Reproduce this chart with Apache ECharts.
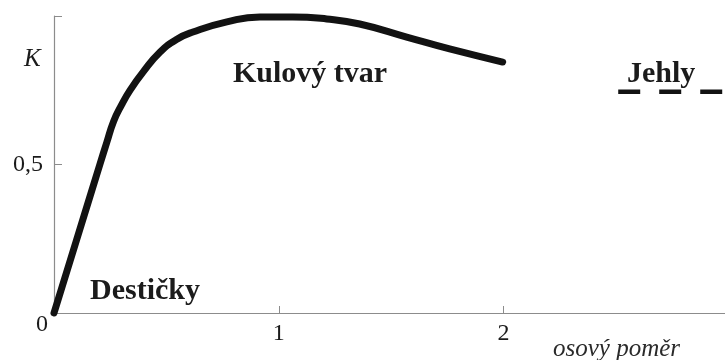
<!DOCTYPE html>
<html>
<head>
<meta charset="utf-8">
<script src="https://cdn.jsdelivr.net/npm/echarts@6/dist/echarts.min.js"></script>
<style>
  html, body { margin: 0; padding: 0; background: #fff; overflow: hidden; }
  #chart { width: 725px; height: 360px; }
</style>
</head>
<body>
<div id="chart"></div>
<script>
// Shape factor K as a function of the axial ratio
const axisRatio = [0, 0.1, 0.204, 0.235, 0.265, 0.3, 0.34, 0.396, 0.471, 0.547, 0.618, 0.769, 0.916, 1.062, 1.213, 1.36, 1.569, 1.76, 1.996];
const kValues   = [0, 0.245, 0.5, 0.575, 0.645, 0.70, 0.752, 0.811, 0.878, 0.922, 0.946, 0.98, 0.997, 0.997, 0.99, 0.973, 0.929, 0.889, 0.845];

// Needle-shaped particles: constant level, continuing past the right edge
const needleRatio = [2.51, 3.2];
const needleK     = [0.745, 0.745];

// Axis ticks
const xTicks = [0, 1, 2];
const yTicks = [0, 0.5, 1];
const xTickLabels = ['', '1', '2'];
const yTickLabels = ['0', '0,5', ''];
const xMax = 2.985;

const FONT = '"Liberation Serif", "DejaVu Serif", serif';
const INK = '#1b1b1b';
const AXIS = '#8c8c8c';

const chart = echarts.init(document.getElementById('chart'), null, { renderer: 'canvas' });

chart.setOption({
  animation: false,
  backgroundColor: '#ffffff',
  grid: { left: 54, right: 0, top: 16, bottom: 47, containLabel: false, show: false },
  xAxis: {
    type: 'value',
    position: 'bottom',
    min: xTicks[0],
    max: xMax,
    interval: 1,
    axisLine: { show: true, onZero: false, lineStyle: { color: AXIS, width: 1.2 } },
    axisTick: { show: true, inside: true, length: 7, lineStyle: { color: AXIS, width: 1 } },
    splitLine: { show: false },
    splitArea: { show: false },
    axisLabel: {
      margin: 9,
      color: INK,
      fontFamily: FONT,
      fontSize: 24,
      showMaxLabel: false,
      formatter: v => xTickLabels[xTicks.indexOf(v)] ?? ''
    }
  },
  yAxis: {
    type: 'value',
    position: 'left',
    min: yTicks[0],
    max: yTicks[yTicks.length - 1],
    interval: 0.5,
    axisLine: { show: true, onZero: false, lineStyle: { color: AXIS, width: 1.2 } },
    axisTick: { show: true, inside: true, length: 8, lineStyle: { color: AXIS, width: 1 } },
    splitLine: { show: false },
    splitArea: { show: false },
    axisLabel: {
      margin: 6,
      color: INK,
      fontFamily: FONT,
      fontSize: 24,
      formatter: v => {
        const t = yTickLabels[yTicks.indexOf(v)] ?? '';
        if (v === 0) return '{z|' + t + '}';
        if (t) return '{h|' + t + '}';
        return '';
      },
      rich: {
        z: { fontFamily: FONT, fontSize: 24, color: INK, padding: [24, 0, 0, 0] },
        h: { fontFamily: FONT, fontSize: 24, color: INK, padding: [0, 5, 0, 0] }
      }
    }
  },
  series: [
    {
      name: 'K',
      type: 'line',
      data: axisRatio.map((x, i) => [x, kValues[i]]),
      smooth: 0.5,
      symbol: 'none',
      clip: false,
      lineStyle: { color: '#121212', width: 7, cap: 'round', join: 'round' }
    },
    {
      name: 'Jehly',
      type: 'line',
      data: needleRatio.map((x, i) => [x, needleK[i]]),
      symbol: 'none',
      clip: true,
      lineStyle: { color: '#121212', width: 4.5, type: [22, 19], cap: 'butt' }
    }
  ],
  graphic: [
    { type: 'text', left: 24, top: 47, style: { text: 'K', fontStyle: 'italic', fontSize: 25, fontFamily: FONT, fill: INK } },
    { type: 'text', left: 233, top: 59, style: { text: 'Kulový tvar', fontWeight: 'bold', fontSize: 30, fontFamily: FONT, fill: INK } },
    { type: 'text', left: 90, top: 276, style: { text: 'Destičky', fontWeight: 'bold', fontSize: 30, fontFamily: FONT, fill: INK } },
    { type: 'text', left: 627, top: 59, style: { text: 'Jehly', fontWeight: 'bold', fontSize: 30, fontFamily: FONT, fill: INK } },
    { type: 'text', left: 553, top: 337, style: { text: 'osový poměr', fontStyle: 'italic', fontSize: 25, fontFamily: FONT, fill: '#2a2a2a' } }
  ]
});
</script>
</body>
</html>
